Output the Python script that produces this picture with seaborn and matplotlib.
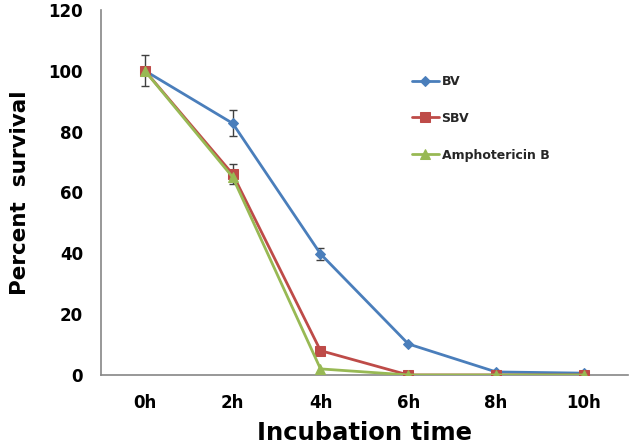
import numpy as np
import pandas as pd
import matplotlib
matplotlib.use("Agg")
import matplotlib.pyplot as plt
import seaborn as sns
from matplotlib.ticker import FixedLocator

times = ["0h", "2h", "4h", "6h", "8h", "10h"]
bv = [100, 82.7, 39.8, 10.2, 1.0, 0.6]
sbv = [100, 66, 8, 0, 0, 0]
ampho = [100, 65, 2, 0, 0, 0]
bv_err = [5, 4.3, 2, 0, 0, 0]
sbv_err = [0, 3.2, 0, 0, 0, 0]
series_names = ["BV", "SBV", "Amphotericin B"]
yticks = [0, 20, 40, 60, 80, 100, 120]

colors = ["#4a7ebb", "#be4b48", "#98b954"]
markers = ["D", "s", "^"]
msizes = [5, 7, 7]

df = pd.DataFrame({
    "time": times * 3,
    "value": bv + sbv + ampho,
    "series": sum([[n] * len(times) for n in series_names], []),
})

sns.set_style("white")
fig = plt.figure(figsize=(6.31, 4.48), dpi=100)
ax = fig.add_axes([0.160, 0.163, 0.835, 0.815])

pos = np.arange(len(times))
ax.errorbar(pos, bv, yerr=bv_err, fmt="none", ecolor="#404040", elinewidth=1.0, capsize=3, capthick=1.0, zorder=1)
ax.errorbar(pos, sbv, yerr=sbv_err, fmt="none", ecolor="#404040", elinewidth=1.0, capsize=3, capthick=1.0, zorder=1)

for name, c, m, ms in zip(series_names, colors, markers, msizes):
    sub = df[df["series"] == name]
    sns.lineplot(data=sub, x="time", y="value", color=c, marker=m, markersize=ms,
                 markeredgecolor=c, linewidth=2.0, label=name, ax=ax, sort=False, zorder=3)

ax.set_xlim(-0.5, len(times) - 0.5)
ax.set_ylim(0, 120)
ax.set_yticks(yticks)
ax.set_xticks(pos)
ax.set_xticklabels(times)
ax.xaxis.set_minor_locator(FixedLocator(np.arange(-0.5, len(times), 1.0)))
ax.tick_params(axis="x", which="major", length=0, pad=14)
ax.tick_params(axis="x", which="minor", length=5, color="#868686", width=1)
ax.tick_params(axis="y", which="major", length=5, color="#868686", width=1, pad=8)
for lab in ax.get_xticklabels() + ax.get_yticklabels():
    lab.set_fontweight("bold")
    lab.set_fontsize(12)
    lab.set_color("black")

for s in ["top", "right"]:
    ax.spines[s].set_visible(False)
for s in ["left", "bottom"]:
    ax.spines[s].set_color("#868686")
    ax.spines[s].set_linewidth(1.2)

ax.set_xlabel("Incubation time", fontsize=17.5, fontweight="bold", labelpad=6, color="black")
ax.set_ylabel("Percent  survival", fontsize=15.5, fontweight="bold", labelpad=13, color="black")

leg = ax.legend(loc="upper left", bbox_to_anchor=(0.58, 0.835), frameon=False,
                prop={"weight": "bold", "size": 9}, handlelength=2.2,
                labelspacing=1.9, handletextpad=0.2, borderaxespad=0)

fig.savefig("out.png", dpi=100)
